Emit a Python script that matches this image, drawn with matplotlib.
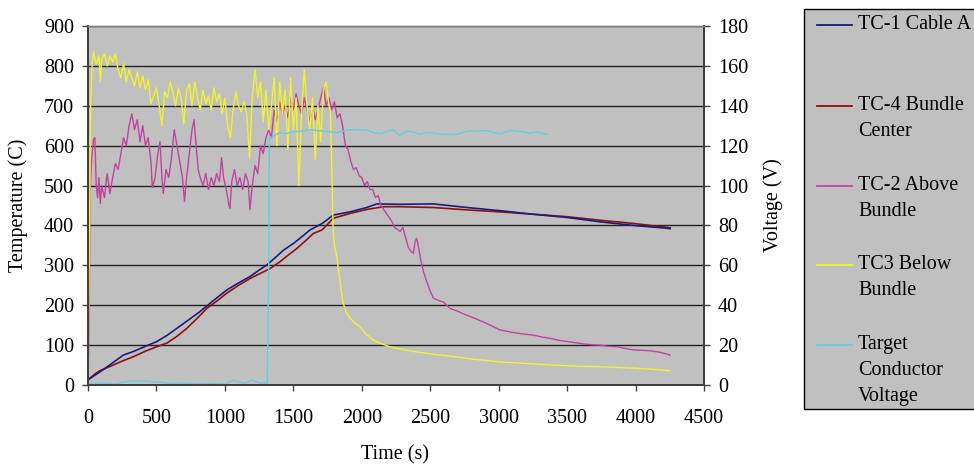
import matplotlib
matplotlib.use("Agg")
import matplotlib.pyplot as plt
from matplotlib.lines import Line2D
from matplotlib.patches import Rectangle

plt.rcParams['font.family'] = ['Liberation Serif', 'DejaVu Serif']

# ---------------- data ----------------
tc1_t = [0, 88, 150, 258, 332, 420, 503, 580, 649, 730, 818, 910, 1013, 1100, 1184, 1250,
         1306, 1370, 1428, 1501, 1549, 1623, 1711, 1792, 1914, 2036, 2109, 2279, 2523, 2767,
         3010, 3254, 3499, 3742, 3985, 4228, 4253]
tc1_v = [13, 33, 48, 75, 84, 97, 109, 125, 142, 162, 184, 210, 238, 256, 272, 288,
         301, 320, 338, 355, 368, 389, 405, 426, 434, 445, 454, 453, 454, 445,
         437, 428, 420, 409, 400, 393, 392]

tc4_t = [0, 60, 88, 150, 250, 332, 420, 503, 576, 650, 722, 800, 868, 940, 1013, 1100, 1184,
         1260, 1330, 1403, 1460, 1525, 1590, 1647, 1711, 1792, 1914, 2036, 2158, 2279, 2523,
         2767, 3010, 3254, 3499, 3742, 3985, 4253]
tc4_v = [13, 30, 36, 45, 60, 71, 85, 96, 105, 122, 142, 168, 192, 210, 230, 250, 267,
         280, 292, 309, 325, 342, 362, 380, 389, 418, 430, 440, 447, 447, 445,
         439, 434, 428, 422, 413, 405, 394]

tc2_t = [0, 8, 15, 25, 40, 50, 60, 70, 80, 90, 100, 120, 140, 160, 180, 200, 220, 240, 260,
         280, 300, 320, 340, 360, 380, 400, 420, 440, 460, 470, 490, 510, 526, 540, 550, 570,
         590, 610, 630, 650, 670, 690, 705, 720, 740, 760, 775, 790, 805, 820, 840, 860, 880,
         900, 920, 940, 960, 976, 990, 1010, 1030, 1037, 1050, 1070, 1090, 1110, 1130, 1150,
         1170, 1183, 1200, 1220, 1240, 1260, 1280, 1300, 1320, 1340, 1360, 1380, 1400, 1420,
         1440, 1460, 1480, 1500, 1520, 1540, 1560, 1580, 1600, 1620, 1640, 1660, 1680, 1700,
         1720, 1740, 1760, 1780, 1800, 1820, 1840, 1860, 1880, 1900, 1920, 1940, 1960, 1980,
         2000, 2020, 2040, 2060, 2080, 2100, 2120, 2140, 2160, 2180, 2200, 2220, 2240, 2260,
         2280, 2300, 2320, 2340, 2360, 2377, 2390, 2401, 2415, 2430, 2450, 2474, 2500, 2523,
         2560, 2596, 2620, 2645, 2700, 2767, 2820, 2889, 2950, 3010, 3070, 3132, 3200, 3254,
         3320, 3376, 3440, 3499, 3560, 3620, 3680, 3742, 3800, 3864, 3920, 3985, 4050, 4107,
         4180, 4253]
tc2_v = [15, 150, 480, 560, 615, 620, 500, 470, 520, 455, 500, 470, 530, 480, 520, 555, 540,
         580, 620, 600, 650, 680, 640, 665, 610, 650, 600, 620, 560, 495, 520, 580, 610, 520,
         480, 540, 520, 570, 640, 600, 560, 520, 460, 520, 580, 640, 665, 600, 540, 520, 500,
         530, 490, 520, 500, 530, 510, 570, 520, 490, 450, 443, 510, 540, 500, 520, 490, 530,
         510, 440, 500, 550, 530, 600, 580, 620, 640, 620, 690, 660, 710, 680, 700, 670, 720,
         690, 730, 700, 680, 720, 690, 660, 700, 665, 690, 720, 745, 700, 720, 690, 710, 670,
         680, 650, 600, 590, 560, 540, 545, 525, 520, 500, 510, 490, 490, 470, 475, 450, 440,
         430, 420, 410, 395, 390, 385, 395, 370, 345, 335, 330, 360, 368, 345, 315, 285, 260,
         235, 218, 212, 208, 200, 192, 185, 175, 168, 158, 148, 138, 134, 130, 127, 125, 120,
         117, 112, 109, 106, 103, 101, 100, 97, 96, 92, 88, 87, 86, 82, 75]

tc3_t = [0, 10, 20, 30, 40, 60, 80, 90, 100, 120, 140, 160, 180, 200, 220, 240, 260, 280,
         300, 320, 340, 360, 380, 400, 420, 440, 460, 480, 500, 520, 540, 560, 580, 600, 620,
         640, 660, 680, 700, 720, 740, 760, 780, 800, 820, 840, 860, 880, 900, 920, 940, 960,
         980, 1000, 1020, 1040, 1060, 1080, 1100, 1120, 1140, 1160, 1180, 1200, 1220, 1240,
         1260, 1280, 1300, 1320, 1340, 1360, 1380, 1400, 1420, 1440, 1460, 1480, 1500, 1520,
         1540, 1560, 1580, 1600, 1620, 1640, 1660, 1680, 1700, 1720, 1740, 1760, 1770, 1780,
         1790, 1800, 1818, 1840, 1864, 1890, 1914, 1950, 1987, 2030, 2085, 2130, 2184, 2280,
         2400, 2500, 2600, 2700, 2800, 2900, 3000, 3200, 3400, 3600, 3800, 4000, 4100, 4250]
tc3_v = [15, 350, 720, 800, 835, 805, 825, 760, 815, 830, 800, 825, 810, 830, 790, 770, 805,
         760, 790, 770, 750, 785, 745, 775, 740, 765, 705, 725, 745, 700, 650, 735, 720, 760,
         735, 700, 745, 720, 655, 740, 755, 700, 760, 720, 690, 740, 705, 725, 690, 745, 710,
         730, 680, 720, 650, 620, 690, 735, 700, 685, 710, 680, 570, 720, 790, 720, 760, 660,
         740, 640, 700, 770, 600, 760, 680, 740, 590, 770, 640, 720, 500, 680, 790, 700, 640,
         720, 565, 700, 610, 740, 760, 700, 690, 560, 400, 350, 320, 260, 205, 180, 168, 155,
         146, 128, 113, 105, 98, 90, 83, 78, 74, 70, 65, 62, 58, 54, 50, 47, 45, 42, 40, 36]

volt_t = [0, 100, 200, 300, 400, 500, 600, 700, 800, 900, 1000, 1060, 1100, 1150, 1200, 1250,
          1310, 1320, 1325, 1360, 1400, 1447, 1500, 1570, 1620, 1692, 1760, 1814, 1912, 1960,
          2036, 2090, 2133, 2180, 2231, 2279, 2328, 2380, 2425, 2474, 2530, 2596, 2693, 2767,
          2913, 3010, 3083, 3132, 3230, 3278, 3351]
volt_v = [0.5, 1, 0.5, 2, 2, 1.5, 0.8, 1, 0.5, 0.8, 0.5, 2.5, 1.5, 1, 2.5, 1,
          1, 60, 124, 125, 126.5, 126, 127, 127.4, 128, 127.5, 127, 126.5, 128, 128,
          127.9, 126.5, 126, 127, 128, 125, 127.4, 126.8, 125.6, 126.7, 126.2, 125.6, 125.6,
          127.3, 127.5, 125.8, 127.6, 127.4, 126.4, 127, 125.6]

x_ticks = [0, 500, 1000, 1500, 2000, 2500, 3000, 3500, 4000, 4500]
temp_ticks = [0, 100, 200, 300, 400, 500, 600, 700, 800, 900]
volt_ticks = [0, 20, 40, 60, 80, 100, 120, 140, 160, 180]

labels = ["TC-1 Cable A", "TC-4 Bundle\nCenter", "TC-2 Above\nBundle",
          "TC3 Below\nBundle", "Target\nConductor\nVoltage"]
colors = ["#1c1c80", "#8e1010", "#c044a0", "#f2f230", "#66cce0"]

# ---------------- figure ----------------
W, H = 974, 466
fig = plt.figure(figsize=(W / 100, H / 100), dpi=100)
fig.patch.set_facecolor("white")
L, R, T, B = 88, 704, 26, 385
ax = fig.add_axes([L / W, 1 - B / H, (R - L) / W, (B - T) / H])
ax.set_facecolor("#c0c0c0")

ax.plot(tc4_t, tc4_v, color=colors[1], lw=1.2, zorder=3)
ax.plot(tc1_t, tc1_v, color=colors[0], lw=1.2, zorder=3)
ax.plot(tc2_t, tc2_v, color=colors[2], lw=1.0, zorder=3)
ax.plot(tc3_t, tc3_v, color=colors[3], lw=1.0, zorder=3)

ax.set_xlim(0, 4500)
ax.set_ylim(0, 900)
ax.set_xticks(x_ticks)
ax.set_yticks(temp_ticks)
ax.yaxis.grid(True, color="#222222", lw=1.0)
ax.set_axisbelow(True)

ax2 = ax.twinx()
ax2.plot(volt_t, volt_v, color=colors[4], lw=1.0)
ax2.set_ylim(0, 180)
ax2.set_yticks(volt_ticks)

for a in (ax, ax2):
    for s in ("left", "bottom", "right"):
        a.spines[s].set_color("#404040")
        a.spines[s].set_linewidth(1.4)
    a.spines["top"].set_color("#808080")
    a.spines["top"].set_linewidth(1.0)
    a.tick_params(labelsize=14.5, length=4, width=1, color="#404040", direction="out")
ax.tick_params(axis="x", pad=13)
ax.tick_params(axis="y", pad=6)
ax2.tick_params(axis="y", pad=6)

fig.text(18 / W, 1 - 205 / H, "Temperature (C)", rotation=90, ha="center", va="center", fontsize=14.5)
fig.text(773 / W, 1 - 205 / H, "Voltage (V)", rotation=90, ha="center", va="center", fontsize=14.5)
fig.text(395 / W, 1 - 455 / H, "Time (s)", ha="center", va="center", fontsize=14.5)

# ---------------- legend box ----------------
fig.patches.append(Rectangle((804 / W, 1 - 409 / H), 260 / W, 400 / H, transform=fig.transFigure,
                             facecolor="#c0c0c0", edgecolor="black", lw=1.0, zorder=1))
ys = [25, 106, 186, 265, 345]
for lab, c, y in zip(labels, colors, ys):
    fig.lines.append(Line2D([817 / W, 852 / W], [1 - y / H, 1 - y / H], transform=fig.transFigure,
                            color=c, lw=1.3, zorder=2))
    fig.text(858 / W, 1 - (y - 10) / H, lab, ha="left", va="top", fontsize=14.5,
             linespacing=1.5, zorder=3)

fig.savefig("out.png", dpi=100)
